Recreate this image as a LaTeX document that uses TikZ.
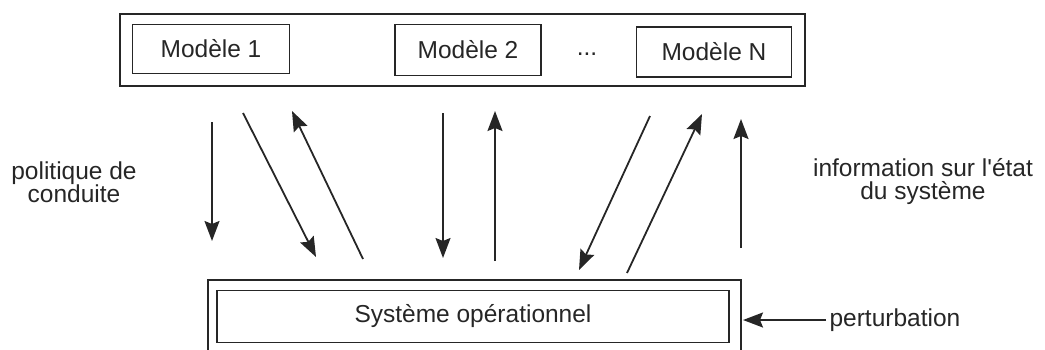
\documentclass[tikz,border=0pt]{standalone}
\usepackage{fontspec}
\setmainfont{Liberation Sans}
\newfontfamily\plainsans{Liberation Sans}
\usetikzlibrary{arrows.meta}
\begin{document}
\begin{tikzpicture}[x=1pt,y=-1pt,
  frame/.style={draw=black!85,line width=1.6pt},
  boxlabel/.style={font=\fontsize{24.5}{28}\selectfont,text=black!85},
  sidelabel/.style={font=\fontsize{24.5}{23}\selectfont,text=black!85,align=center},
  flow/.style={draw=black!85,line width=1.8pt,-{Stealth[length=20pt,width=15pt,inset=3pt]}}]
\useasboundingbox (0,0) rectangle (1045,349);

% model bank
\draw[frame] (120,14) rectangle (805,86);
\node[frame,boxlabel,minimum width=157pt,minimum height=49pt] (m1) at (211,49) {Modèle 1};
\node[frame,boxlabel,minimum width=146pt,minimum height=51pt] (m2) at (468,50) {Modèle 2};
\node[boxlabel] (dots) at (587,54) {...};
\node[frame,boxlabel,minimum width=155pt,minimum height=50pt] (mn) at (714,52) {Modèle N};

% operational system
\draw[frame] (208,280) rectangle (741,352);
\node[frame,boxlabel,minimum width=512pt,minimum height=52pt] (sys) at (473,316.5) {Système opérationnel};

% exchange arrows
\coordinate (a1s) at (212,122); \coordinate (a1e) at (212,241);
\coordinate (a2s) at (243,113); \coordinate (a2e) at (316,257);
\coordinate (a3s) at (363,259); \coordinate (a3e) at (292,111);
\coordinate (a4s) at (443,113); \coordinate (a4e) at (443,258);
\coordinate (a5s) at (495,261); \coordinate (a5e) at (495,111);
\coordinate (a6s) at (650,116); \coordinate (a6e) at (579,270);
\coordinate (a7s) at (627,273); \coordinate (a7e) at (702,114);
\coordinate (a8s) at (741,248); \coordinate (a8e) at (741,119);
\foreach \i in {1,...,8} \draw[flow] (a\i s) -- (a\i e);

% side labels
\node[sidelabel] (pol) at (74,182) {politique de\\conduite};
\node[sidelabel] (inf) at (923,182) {information sur l{\plainsans'}état\\du système};

% disturbance
\node[boxlabel,anchor=west] (pert) at (826,320) {perturbation};
\draw[flow] (pert.west) -- (743,320);
\end{tikzpicture}
\end{document}
